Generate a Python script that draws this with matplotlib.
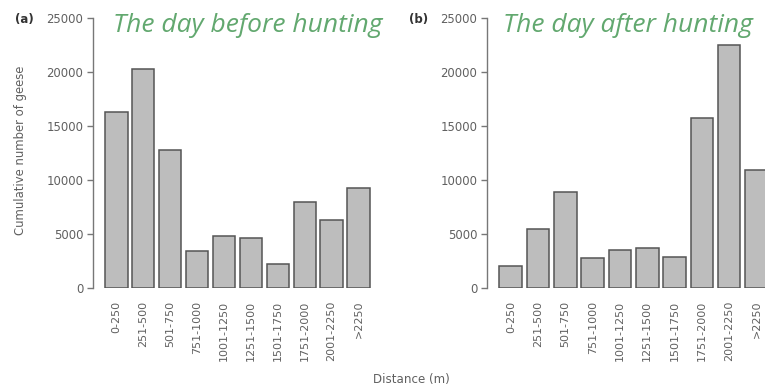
import matplotlib
matplotlib.use("Agg")
import matplotlib.pyplot as plt
import numpy as np

# distance classes (m)
categories = ["0-250", "251-500", "501-750", "751-1000", "1001-1250",
              "1251-1500", "1501-1750", "1751-2000", "2001-2250", ">2250"]
before_hunting = [16300, 20300, 12800, 3400, 4770, 4640, 2240, 8000, 6320, 9260]
after_hunting = [2080, 5500, 8900, 2820, 3550, 3690, 2840, 15700, 22500, 10900]
yticks = [0, 5000, 10000, 15000, 20000, 25000]

plt.rcParams['font.family'] = ['DejaVu Sans']

W, H = 765, 392
fig = plt.figure(figsize=(W / 100, H / 100), dpi=100)

bar_fc = '#bdbdbd'
bar_ec = '#555555'
axis_c = '#777777'
text_c = '#606060'
title_c = '#62a86f'


def make_panel(left_px, pitch, values, title, tag, title_x, tag_x):
    x = np.arange(len(values))
    xl = (-0.87, 9.93)
    width_px = (xl[1] - xl[0]) * pitch
    ax = fig.add_axes([left_px / W, (H - 288) / H, width_px / W, 270 / H])
    ax.bar(x, values, width=0.83, color=bar_fc, edgecolor=bar_ec,
           linewidth=1.1, zorder=2)
    ax.set_xlim(*xl)
    ax.set_ylim(0, 25000)
    for s in ['top', 'right', 'bottom']:
        ax.spines[s].set_visible(False)
    ax.spines['left'].set_color(axis_c)
    ax.spines['left'].set_linewidth(1.0)
    ax.spines['left'].set_bounds(0, 25000)
    ax.set_yticks(yticks)
    ax.set_yticklabels([str(t) for t in yticks])
    ax.set_xticks(x)
    ax.set_xticklabels(categories, rotation=90)
    ax.tick_params(axis='y', length=4, width=1.0, color=axis_c,
                   labelsize=8.4, labelcolor=text_c, pad=3)
    ax.tick_params(axis='x', length=0, labelsize=8, labelcolor=text_c, pad=9)
    ax.patch.set_alpha(0)
    fig.text(title_x / W, (H - 25) / H, title, fontsize=19, style='italic',
             family=['Open Sans', 'DejaVu Sans'], color=title_c,
             ha='left', va='center')
    fig.text(tag_x / W, (H - 19) / H, tag, fontsize=8.5, fontweight='bold',
             color='#333333', ha='left', va='center')
    return ax


ax1 = make_panel(93, 26.9, before_hunting, "The day before hunting", "(a)",
                 113, 15)
ax2 = make_panel(487, 27.3, after_hunting, "The day after hunting", "(b)",
                 503, 409)

fig.text(21 / W, (H - 150) / H, "Cumulative number of geese", rotation=90,
         fontsize=8.4, color=text_c, ha='center', va='center')
fig.text(411 / W, (H - 380) / H, "Distance (m)", fontsize=8.6,
         color=text_c, ha='center', va='center')

fig.savefig("out.png", dpi=100, facecolor='white')
